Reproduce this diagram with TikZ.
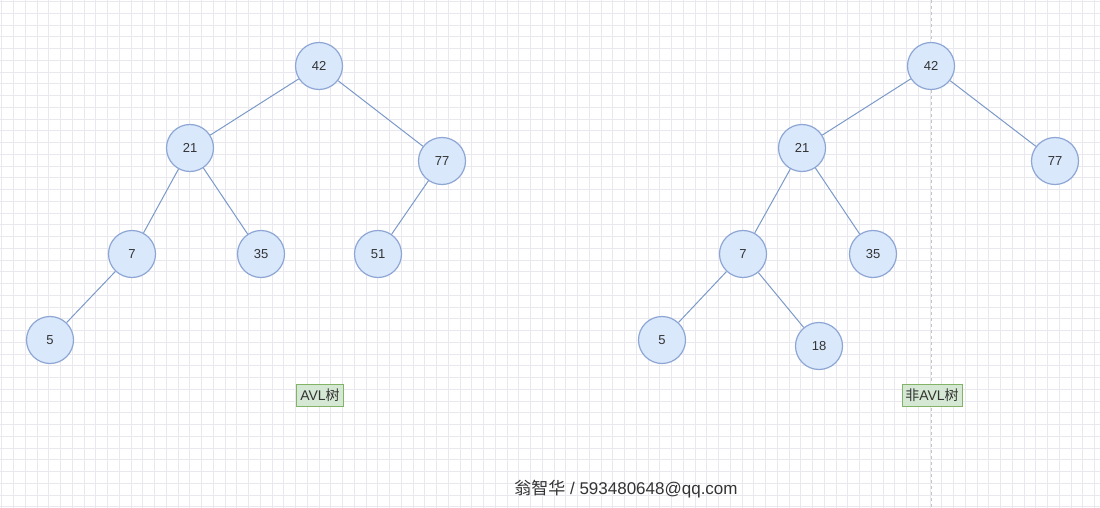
\documentclass[tikz,border=0pt]{standalone}
\usepackage{fontspec}
\setmainfont{Liberation Sans}
\newfontfamily\cjk{Noto Sans CJK SC}
\definecolor{gridminor}{HTML}{EAE8EF}
\definecolor{nodefill}{HTML}{DAE8FC}
\definecolor{nodeline}{HTML}{8DA6D4}
\definecolor{edgecol}{HTML}{7C9AC8}
\definecolor{lblfill}{HTML}{D5E8D4}
\definecolor{lblline}{HTML}{82B366}
\definecolor{txt}{HTML}{333333}
\begin{document}
\begin{tikzpicture}[x=1pt,y=-1pt,
  tn/.style={circle,draw=nodeline,fill=nodefill,line width=1.2pt,minimum size=47pt,inner sep=0pt,font=\fontsize{13}{15}\selectfont,text=txt},
  edge/.style={draw=edgecol,line width=1pt},
  lbl/.style={draw=lblline,fill=lblfill,line width=0.8pt,minimum height=22pt,inner sep=2pt,font=\fontsize{14}{16}\selectfont,text=txt}]
\useasboundingbox (0,0) rectangle (1100,508);
\fill[white] (0,0) rectangle (1100,508);
% grid
\foreach \i in {0,...,93} {
  \draw[gridminor,line width=0.9pt] ({1.7+\i*11.75},0) -- ({1.7+\i*11.75},508);
}
\foreach \j in {0,...,43} {
  \draw[gridminor,line width=0.9pt] (0,{1.5+\j*11.75}) -- (1100,{1.5+\j*11.75});
}
\draw[gray!45,dashed,line width=0.8pt] (931,0) -- (931,508);
% left tree
\node[tn] (a42) at (319,66) {42};
\node[tn] (a21) at (190,148) {21};
\node[tn] (a77) at (442,161) {77};
\node[tn] (a7) at (132,254) {7};
\node[tn] (a35) at (261,254) {35};
\node[tn] (a51) at (378,254) {51};
\node[tn] (a5) at (50,340) {5};
\draw[edge] (a42) -- (a21);
\draw[edge] (a42) -- (a77);
\draw[edge] (a21) -- (a7);
\draw[edge] (a21) -- (a35);
\draw[edge] (a77) -- (a51);
\draw[edge] (a7) -- (a5);
% right tree
\node[tn] (b42) at (931,66) {42};
\node[tn] (b21) at (802,148) {21};
\node[tn] (b77) at (1055,161) {77};
\node[tn] (b7) at (743,254) {7};
\node[tn] (b35) at (873,254) {35};
\node[tn] (b5) at (662,340) {5};
\node[tn] (b18) at (819,346) {18};
\draw[edge] (b42) -- (b21);
\draw[edge] (b42) -- (b77);
\draw[edge] (b21) -- (b7);
\draw[edge] (b21) -- (b35);
\draw[edge] (b7) -- (b5);
\draw[edge] (b7) -- (b18);
% labels
\node[lbl,minimum width=47pt] (l1) at (320,395) {AVL{\cjk 树}};
\node[lbl,minimum width=60pt] (l2) at (932,395) {{\cjk 非}AVL{\cjk 树}};
\node[font=\fontsize{17}{19}\selectfont,text=txt] (sig) at (626,489) {{\cjk 翁智华} / 593480648@qq.com};
\end{tikzpicture}
\end{document}
